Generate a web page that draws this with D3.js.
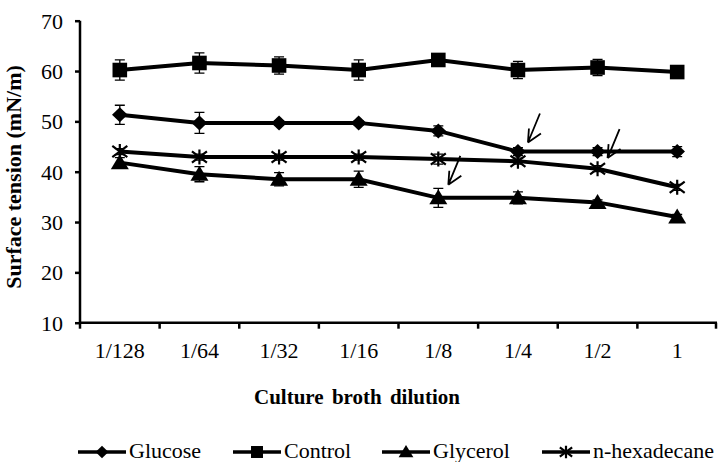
<!DOCTYPE html>
<html><head><meta charset="utf-8">
<script src="https://cdn.jsdelivr.net/npm/d3@7"></script>
<style>body{margin:0;background:#fff}svg{display:block}svg text{font-family:'Liberation Serif',Tinos,'Times New Roman','DejaVu Serif',serif !important;fill:#000}</style>
</head><body>
<svg id="c" width="718" height="462"></svg>
<script>
const categories = ["1/128","1/64","1/32","1/16","1/8","1/4","1/2","1"];
const yTicks = [10,20,30,40,50,60,70];
const glucose = [51.3,49.7,49.7,49.7,48.1,44.0,44.0,44.0];
const glucoseErr = [1.9,2.1,0.4,0.4,1.0,0.8,0.8,1.0];
const control = [60.2,61.6,61.1,60.2,62.2,60.2,60.7,59.8];
const controlErr = [2.0,2.0,1.7,2.0,1.2,1.7,1.6,0.4];
const glycerol = [41.8,39.5,38.5,38.5,34.8,34.8,33.9,31.0];
const glycerolErr = [1.0,1.5,1.3,1.6,1.9,1.2,0.5,0.5];
const hexadecane = [44.0,42.9,42.9,42.9,42.5,42.1,40.6,36.9];
const hexadecaneErr = [0.6,0.6,0.6,0.6,1.0,0.6,0.6,0.6];
const seriesNames = ["Glucose","Control","Glycerol","n-hexadecane"];
// arrow annotations: category and value at the arrow tip
const arrowCats = ["1/4","1/2","1/8"];
const arrowVals = [45.8,42.7,37.4];

const series = [
  {name:seriesNames[0], v:glucose, e:glucoseErr, m:"diamond"},
  {name:seriesNames[1], v:control, e:controlErr, m:"square"},
  {name:seriesNames[2], v:glycerol, e:glycerolErr, m:"triangle"},
  {name:seriesNames[3], v:hexadecane, e:hexadecaneErr, m:"star"}
];

const FONT = "'Liberation Serif', Tinos, 'Times New Roman', 'DejaVu Serif', serif";
const svg = d3.select("#c");
const x = d3.scaleBand().domain(categories).range([80,717]);
const y = d3.scaleLinear().domain([10,70]).range([322.7,20.7]);
const cx = c => x(c) + x.bandwidth()/2;

function marker(g, type, s) {
  if (type === "diamond") {
    g.append("path").attr("d", `M0,${-7.5*s}L${7.8*s},0L0,${7.5*s}L${-7.8*s},0Z`).attr("fill","#000");
  } else if (type === "square") {
    g.append("rect").attr("x",-7.3*s).attr("y",-7.3*s).attr("width",14.6*s).attr("height",14.6*s).attr("fill","#000");
  } else if (type === "triangle") {
    g.append("path").attr("d", `M0,${-8.5*s}L${9*s},${6.5*s}L${-9*s},${6.5*s}Z`).attr("fill","#000");
  } else {
    const r = 7.5*s;
    g.append("path").attr("d", `M${-r},${-r*0.75}L${r},${r*0.75}M${-r},${r*0.75}L${r},${-r*0.75}M0,${-r}L0,${r}`)
      .attr("stroke","#000").attr("stroke-width",2.2).attr("fill","none");
  }
}

// axes
const yAxis = svg.append("g").attr("transform","translate(80,0)")
  .call(d3.axisLeft(y).tickValues(yTicks).tickSize(5).tickPadding(12));
yAxis.attr("font-family",FONT);
yAxis.select(".domain").attr("stroke-width",2.5).attr("d","M0,20.7V322.7");
yAxis.selectAll(".tick line").attr("stroke-width",2.5);
yAxis.selectAll(".tick text").attr("font-size",22).style("font-family",FONT).attr("dy","0.34em");

const xAxis = svg.append("g").attr("transform",`translate(0,${y(10)})`);
xAxis.append("line").attr("x1",80).attr("x2",717).attr("stroke","#000").attr("stroke-width",2.5);
const bounds = categories.map(c => x(c)).concat([x.range()[1]-1]);
xAxis.selectAll(".tk").data(bounds).join("line")
  .attr("x1",d=>d).attr("x2",d=>d).attr("y1",0).attr("y2",6).attr("stroke","#000").attr("stroke-width",2.5);
xAxis.selectAll(".lb").data(categories).join("text")
  .attr("x",d=>cx(d)).attr("y",35).attr("text-anchor","middle").attr("font-size",22).style("font-family",FONT).text(d=>d);

// titles
svg.append("text").attr("x",357).attr("y",404).attr("text-anchor","middle").style("font-family",FONT)
  .attr("font-size",21).attr("font-weight","bold").attr("word-spacing","3px").text("Culture broth dilution");
svg.append("text").attr("transform","translate(21,177) rotate(-90)").attr("text-anchor","middle").style("font-family",FONT)
  .attr("font-size",22).attr("font-weight","bold").text("Surface tension (mN/m)");

// series
const line = d3.line().x((d,i)=>cx(categories[i])).y(d=>y(d));
series.forEach(s => {
  const g = svg.append("g");
  s.v.forEach((v,i) => {
    const px = cx(categories[i]);
    const e = s.e[i];
    g.append("path").attr("d",`M${px},${y(v+e)}V${y(v-e)}M${px-5},${y(v+e)}H${px+5}M${px-5},${y(v-e)}H${px+5}`)
      .attr("stroke","#000").attr("stroke-width",1.3).attr("fill","none");
  });
  g.append("path").datum(s.v).attr("d",line).attr("fill","none").attr("stroke","#000").attr("stroke-width",4);
  s.v.forEach((v,i) => {
    const mg = g.append("g").attr("transform",`translate(${cx(categories[i])},${y(v)})`);
    marker(mg, s.m, 1);
  });
});

// arrows
arrowCats.forEach((c,i) => {
  const tx = cx(c) + 10, ty = y(arrowVals[i]);
  svg.append("path").attr("d",`M${tx+12},${ty-29}L${tx},${ty}M${tx},${ty}L${tx+1},${ty-14}M${tx},${ty}L${tx+13},${ty-9}`)
    .attr("stroke","#000").attr("stroke-width",1.8).attr("fill","none");
});

// legend
const legX = [78,233,382,542];
const lg = svg.append("g");
series.forEach((s,i) => {
  const g = lg.append("g").attr("transform",`translate(${legX[i]},452)`);
  g.append("line").attr("x1",0).attr("x2",48).attr("stroke","#000").attr("stroke-width",3.5);
  const mg = g.append("g").attr("transform","translate(24,0)");
  marker(mg, s.m, 0.82);
  g.append("text").attr("x",51).attr("y",6).attr("font-size",22).style("font-family",FONT).text(s.name);
});
</script>
</body></html>
